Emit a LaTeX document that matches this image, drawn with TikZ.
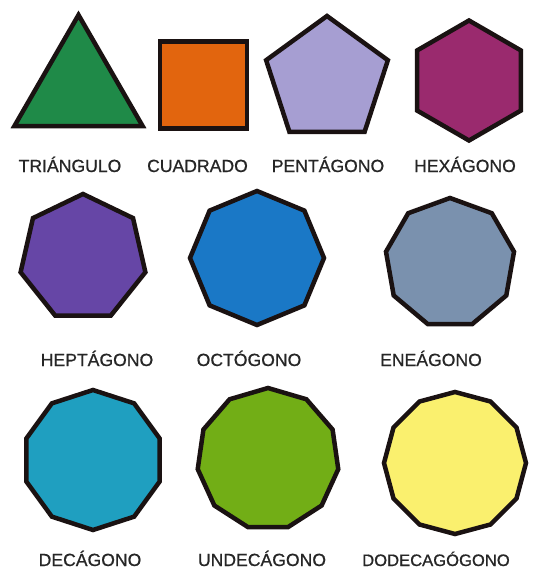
\documentclass[tikz,border=0pt]{standalone}
\usepackage{fontspec}
\setmainfont{Liberation Sans}
\newfontfamily\rotulofont[FakeBold=0.7]{Liberation Sans}
\usepackage{tikz}
\usetikzlibrary{shapes.geometric, positioning}
\definecolor{triangulo}{HTML}{1F8A48}
\definecolor{cuadrado}{HTML}{E2650E}
\definecolor{pentagono}{HTML}{A69ED2}
\definecolor{hexagono}{HTML}{9A2A6E}
\definecolor{heptagono}{HTML}{6646A6}
\definecolor{octogono}{HTML}{1A78C6}
\definecolor{eneagono}{HTML}{7A91AE}
\definecolor{decagono}{HTML}{1F9FC0}
\definecolor{undecagono}{HTML}{72AE16}
\definecolor{dodecagono}{HTML}{FAF06E}
\definecolor{borde}{HTML}{1A1212}
\definecolor{rotulo}{HTML}{262626}

\begin{document}
\begin{tikzpicture}[x=1pt, y=-1pt,
    poly/.style={regular polygon, regular polygon sides=#1, draw=borde,
      line width=4.5pt, inner sep=0pt},
    etiqueta/.style={anchor=base, text=rotulo,
      font=\rotulofont\fontsize{17.6}{17.6}\selectfont}]
      \useasboundingbox[fill=white] (0,0) rectangle (540,571);

      \node[poly=3, fill=triangulo, minimum size=148] (tri) at (78.5, 89) {};
      \node[poly=4, fill=cuadrado, minimum size=123] (cua) at (203.5, 85) {};
      \node[poly=5, fill=pentagono, minimum size=128] (pen) at (327, 80) {};
      \node[poly=6, fill=hexagono, minimum size=120,
        shape border rotate=30] (hex) at (469, 80.5) {};

      \node[poly=7, fill=heptagono, minimum size=128] (hep) at (83, 258) {};
      \node[poly=8, fill=octogono, minimum size=134,
        shape border rotate=22.5] (oct) at (257, 258) {};
      \node[poly=9, fill=eneagono, minimum size=130] (ene) at (450, 263) {};

      \node[poly=10, fill=decagono, minimum size=140,
        shape border rotate=18] (dec) at (93, 460) {};
      \node[poly=11, fill=undecagono, minimum size=142] (und) at (268, 459) {};
      \node[poly=12, fill=dodecagono, minimum size=142,
        shape border rotate=15] (dod) at (455, 463) {};

      \node[etiqueta] (tri-n) at (70, 172) {TRIÁNGULO};
      \node[etiqueta] (cua-n) at (197.5, 172) {CUADRADO};
      \node[etiqueta] (pen-n) at (328, 172) {PENTÁGONO};
      \node[etiqueta] (hex-n) at (465, 172) {HEXÁGONO};

      \node[etiqueta] (hep-n) at (97, 366) {HEPTÁGONO};
      \node[etiqueta] (oct-n) at (249, 366) {OCTÓGONO};
      \node[etiqueta] (ene-n) at (431, 366) {ENEÁGONO};

      \node[etiqueta] (dec-n) at (90, 566) {DECÁGONO};
      \node[etiqueta] (und-n) at (262, 566) {UNDECÁGONO};
      \node[etiqueta, font=\rotulofont\fontsize{16.6}{16.6}\selectfont]
        (dod-n) at (436, 566) {DODECAGÓGONO};
    \end{tikzpicture}
\end{document}
